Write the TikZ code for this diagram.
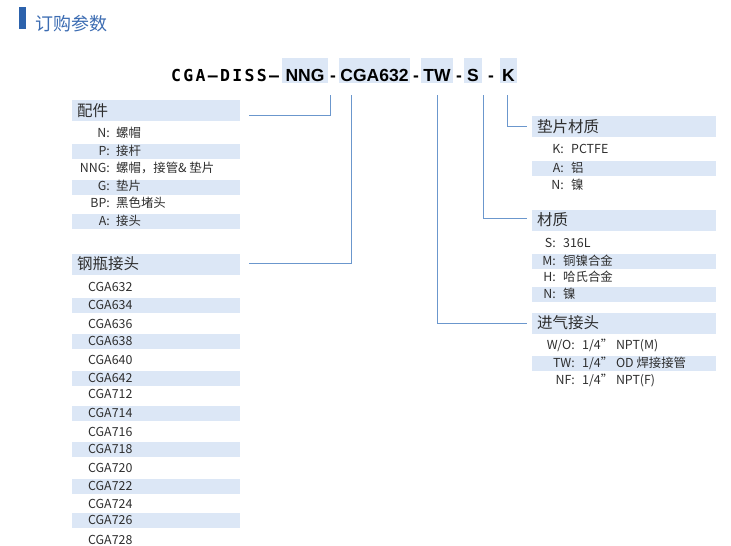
\documentclass[tikz,border=0pt]{standalone}
\usepackage{fontspec}
\setmainfont{Noto Sans CJK SC}
\newfontfamily\codefont[LetterSpace=14]{DejaVu Sans Mono}
\newfontfamily\partfont{Liberation Sans}
\usetikzlibrary{positioning,calc}
\definecolor{Ink}{HTML}{2E2E2E}
\definecolor{TitleBlue}{HTML}{3C6CB2}
\definecolor{BarBlue}{HTML}{2C62AC}
\definecolor{Band}{HTML}{DCE7F6}
\definecolor{Link}{HTML}{6B97CD}

\begin{document}
\begin{tikzpicture}[x=1pt,y=-1pt,
  head/.style={fill=Band,text width=#1,minimum height=21pt,inner xsep=5pt,inner ysep=0pt,align=left,anchor=west,text=Ink,font=\fontsize{15.5}{15.5}\selectfont},
  key/.style={anchor=east,inner sep=0pt,text height=.9em,text depth=0pt,text=Ink,font=\fontsize{12.4}{12.4}\selectfont},
  val/.style={anchor=west,inner sep=0pt,text height=.9em,text depth=0pt,text=Ink,font=\fontsize{12.4}{12.4}\selectfont},
  part/.style={fill=Band,anchor=base,inner xsep=0pt,inner ysep=0pt,text height=23pt,text depth=2pt,minimum width=#1,font=\partfont\bfseries\fontsize{17.5}{17.5}\selectfont},
  hyph/.style={anchor=base,inner sep=0pt,font=\partfont\bfseries\fontsize{17.5}{17.5}\selectfont},
  link/.style={draw=Link,line width=0.9pt}
]
\useasboundingbox (0,0) rectangle (731,546);

% title
\node[fill=BarBlue,minimum width=7pt,minimum height=22pt,inner sep=0pt] (bar) at (22.5,18) {};
\node[anchor=west,inner sep=0pt,text=TitleBlue,font=\fontsize{18}{18}\selectfont] (title) at (35,23.5) {订购参数};

% ordering code
\node[anchor=base west,inner sep=0pt,font=\codefont\bfseries\fontsize{16.5}{16.5}\selectfont] (stem) at (171,81) {CGA–DISS–};
\node[part=46pt] (nng) at (305,81) {NNG};
\node[hyph] (d1) at (333,81) {-};
\node[part=71pt] (cga) at (374.5,81) {CGA632};
\node[hyph] (d2) at (416,81) {-};
\node[part=32pt] (tw) at (437,81) {TW};
\node[hyph] (d3) at (459,81) {-};
\node[part=18pt] (s) at (473,81) {S};
\node[hyph] (d4) at (491,81) {-};
\node[part=17pt] (k) at (508.5,81) {K};

% section headers
\node[head=158pt] (pj) at (72,110.5) {配件};
\node[head=158pt] (gp) at (72,264) {钢瓶接头};
\node[head=174pt] (dp) at (532,126.5) {垫片材质};
\node[head=174pt] (cz) at (532,220) {材质};
\node[head=174pt] (jq) at (532,323) {进气接头};

% row bands
\foreach \y in {151.5,187,221}
  \fill[Band] (72,\y-7.5) rectangle (240,\y+7.5);
\foreach \y in {305,341,378,413,449,486,520}
  \fill[Band] (72,\y-7.5) rectangle (240,\y+7.5);
\foreach \y in {168,261,294,363}
  \fill[Band] (532,\y-7.5) rectangle (716,\y+7.5);

% 配件
\foreach \k/\v/\y [count=\i] in {N/螺帽/133, P/接杆/151, NNG/{螺帽，接管\& 垫片}/168, G/垫片/186, BP/黑色堵头/203, A/接头/221} {
  \node[key] (pjk\i) at (110,\y) {\k:};
  \node[val] (pjv\i) at (116,\y) {\v};
}

% 钢瓶接头
\foreach \c/\y [count=\i] in {632/287, 634/305, 636/324, 638/341, 640/360, 642/378, 712/394, 714/413, 716/432, 718/449, 720/468, 722/486, 724/504, 726/520, 728/540}
  \node[val] (gpv\i) at (88,\y) {CGA\c};

% 垫片材质
\foreach \k/\v/\y [count=\i] in {K/PCTFE/149, A/铝/168, N/镍/185} {
  \node[key] (dpk\i) at (564,\y) {\k:};
  \node[val] (dpv\i) at (571,\y) {\v};
}

% 材质
\foreach \k/\v/\y [count=\i] in {S/316L/243, M/铜镍合金/261, H/哈氏合金/277, N/镍/294} {
  \node[key] (czk\i) at (556,\y) {\k:};
  \node[val] (czv\i) at (563,\y) {\v};
}

% 进气接头
\foreach \k/\v/\y [count=\i] in {{W/O}/{1/4” NPT(M)}/345, TW/{1/4” OD 焊接接管}/363, NF/{1/4” NPT(F)}/380} {
  \node[key] (jqk\i) at (575,\y) {\k:};
  \node[val] (jqv\i) at (582,\y) {\v};
}

% leaders
\draw[link] ([xshift=2pt,yshift=-12pt]nng.south east) |- ([xshift=9pt,yshift=-4.5pt]pj.east);
\draw[link] ([xshift=12.5pt,yshift=-12pt]cga.south west) |- ([xshift=9pt,yshift=1pt]gp.east);
\draw[link] ([yshift=-12pt]tw.south) |- ([xshift=-5pt]jq.west);
\draw[link] ([xshift=1pt,yshift=-12pt]s.south east) |- ([xshift=-5pt,yshift=2pt]cz.west);
\draw[link] ([xshift=-1.5pt,yshift=-12pt]k.south) |- ([xshift=-5pt]dp.west);
\end{tikzpicture}
\end{document}
